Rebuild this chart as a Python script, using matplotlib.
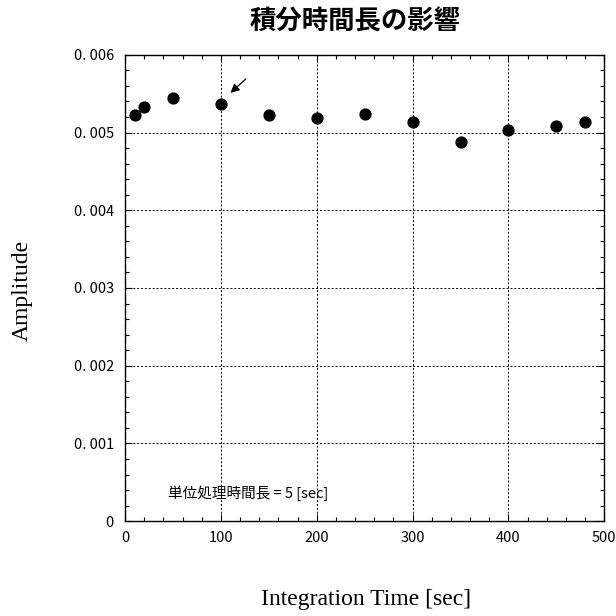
import matplotlib.pyplot as plt
from matplotlib.ticker import MultipleLocator, FixedLocator, FixedFormatter

# data
int_time = [10, 20, 50, 100, 150, 200, 250, 300, 350, 400, 450, 480]
amplitude = [0.00523, 0.00533, 0.00545, 0.00537, 0.00523, 0.00519,
             0.00524, 0.00513, 0.00488, 0.00503, 0.00508, 0.00513]

y_ticks = [0, 0.001, 0.002, 0.003, 0.004, 0.005, 0.006]
y_tick_labels = ["0", "0. 001", "0. 002", "0. 003", "0. 004", "0. 005", "0. 006"]
x_ticks = [0, 100, 200, 300, 400, 500]
x_tick_labels = ["0", "100", "200", "300", "400", "500"]

jp_font = ["Noto Sans CJK JP", "DejaVu Sans"]
serif_font = ["Liberation Serif", "DejaVu Serif"]

fig = plt.figure(figsize=(6.16, 6.16), dpi=100)
ax = fig.add_axes([0.203, 0.154, 0.778, 0.757])

ax.plot(int_time, amplitude, "o", color="black", markersize=7.8)

ax.set_xlim(0, 500)
ax.set_ylim(0, 0.006)
ax.xaxis.set_major_locator(FixedLocator(x_ticks))
ax.xaxis.set_major_formatter(FixedFormatter(x_tick_labels))
ax.yaxis.set_major_locator(FixedLocator(y_ticks))
ax.yaxis.set_major_formatter(FixedFormatter(y_tick_labels))
ax.xaxis.set_minor_locator(MultipleLocator(20))
ax.yaxis.set_minor_locator(MultipleLocator(0.0002))
ax.tick_params(which="both", direction="in", top=True, right=True, width=0.8)
ax.tick_params(which="major", length=5, labelsize=10.5)
ax.tick_params(which="minor", length=3)
ax.tick_params(axis="y", which="major", pad=8)
ax.tick_params(axis="x", which="major", pad=7)
for lab in ax.get_xticklabels() + ax.get_yticklabels():
    lab.set_family(jp_font)

ax.grid(True, which="major", color="black", linestyle=(0, (2, 2)), linewidth=0.7)
for sp in ax.spines.values():
    sp.set_linewidth(1.0)

ax.annotate("", xy=(110, 0.00551), xytext=(126, 0.00569),
            arrowprops=dict(arrowstyle="-|>", color="black", lw=0.9,
                            mutation_scale=13, shrinkA=0, shrinkB=0))
ax.text(45, 0.00036, "単位処理時間長 = 5 [sec]", family=jp_font, fontsize=10.5,
        va="center", ha="left")

fig.text(355 / 616, 1 - 22 / 616, "積分時間長の影響", family=jp_font,
         fontsize=19, fontweight="bold", ha="center", va="center")
fig.text(366 / 616, 1 - 600 / 616, "Integration Time [sec]", family=serif_font,
         fontsize=17, ha="center", va="center")
fig.text(22 / 616, 1 - 290 / 616, "Amplitude", family=serif_font,
         fontsize=17, ha="center", va="center", rotation=90)

fig.savefig("out.png", dpi=100)
